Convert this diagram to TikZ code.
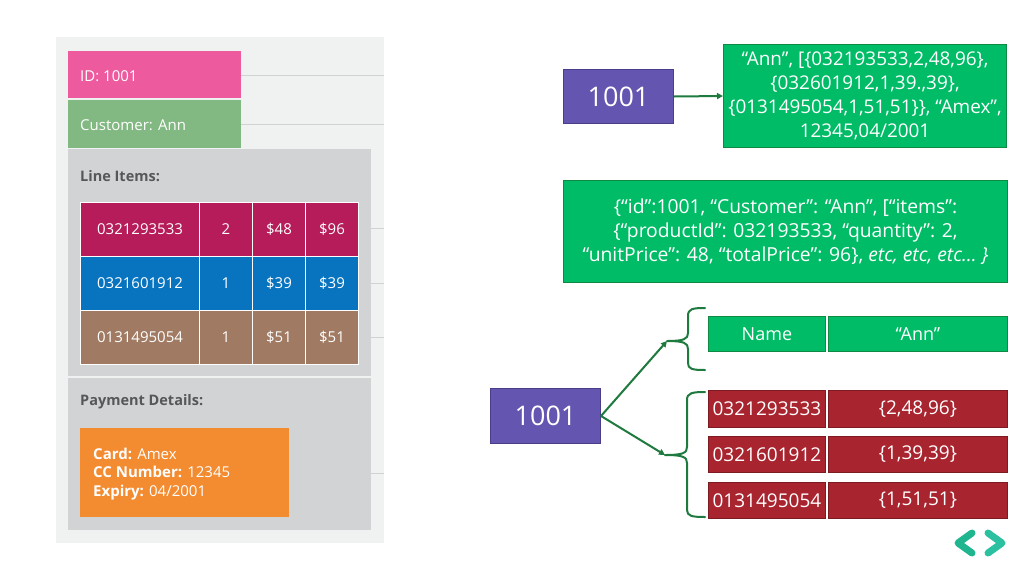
\documentclass[tikz,border=0pt]{standalone}
\usepackage{fontspec}
\setmainfont{Open Sans}
\usetikzlibrary{arrows.meta}
\definecolor{panelbg}{HTML}{F0F1F1}
\definecolor{panelgray}{HTML}{D1D3D4}
\definecolor{linegray}{HTML}{D0D2D3}
\definecolor{idpink}{HTML}{EE5A9E}
\definecolor{custgreen}{HTML}{82B881}
\definecolor{rowred}{HTML}{B51C59}
\definecolor{rowblue}{HTML}{0874C0}
\definecolor{rowbrown}{HTML}{A07A62}
\definecolor{payorange}{HTML}{F38B30}
\definecolor{labelgray}{HTML}{555759}
\definecolor{purplebox}{HTML}{6455B0}
\definecolor{purpleline}{HTML}{4A3D8A}
\definecolor{jsongreen}{HTML}{00BC66}
\definecolor{jsonline}{HTML}{0E8A45}
\definecolor{arrowgreen}{HTML}{1E7A3E}
\definecolor{cellred}{HTML}{A8242F}
\definecolor{cellredline}{HTML}{7E1A22}
\definecolor{logoA}{HTML}{1FB58F}
\definecolor{logoB}{HTML}{2BC1A0}
\tikzset{
  plainbox/.style={anchor=north west, inner sep=0pt},
  lefttext/.style={anchor=west, inner sep=0pt, text=white, font=\fontsize{15}{18}\selectfont},
  cell/.style={anchor=north west, draw=white, line width=1pt, inner sep=0pt, text=white, font=\fontsize{15}{18}\selectfont},
  sectlabel/.style={anchor=west, inner sep=0pt, text=labelgray, font=\fontsize{14.5}{17}\selectfont\bfseries},
  keybox/.style={anchor=north west, fill=purplebox, draw=purpleline, line width=1pt, inner sep=0pt, text=white, font=\fontsize{27}{32}\selectfont},
  jsonbox/.style={anchor=north west, fill=jsongreen, draw=jsonline, line width=1pt, inner sep=0pt, text=white, align=center},
  gcell/.style={anchor=north west, fill=jsongreen, draw=jsonline, line width=0.8pt, inner sep=0pt, text=white, font=\fontsize{18}{22}\selectfont},
  rcell/.style={anchor=north west, fill=cellred, draw=cellredline, line width=0.8pt, inner sep=0pt, text=white, font=\fontsize{19}{22}\selectfont},
  conn/.style={draw=arrowgreen, line width=2pt, -{Triangle[length=6pt,width=6pt]}},
  bracepath/.style={draw=arrowgreen, line width=2pt, line cap=round, line join=round},
  guide/.style={draw=linegray, line width=1pt}
}
\begin{document}
\begin{tikzpicture}[x=1pt,y=-1pt]
\useasboundingbox (0,0) rectangle (1024,576);
\fill[white] (0,0) rectangle (1024,576);

% ---------- left panel ----------
\fill[panelbg] (56,37) rectangle (384,543);
\draw[guide] (241,75) -- (384,75);
\draw[guide] (241,124) -- (384,124);
\draw[guide] (371,228) -- (384,228);
\draw[guide] (371,283) -- (384,283);
\draw[guide] (371,337) -- (384,337);
\draw[guide] (371,473) -- (384,473);

\node[plainbox, fill=idpink, minimum width=173pt, minimum height=47pt] (idbox) at (68,51) {};
\node[lefttext] (idtext) at (80,76) {ID: 1001};
\node[plainbox, fill=custgreen, minimum width=173pt, minimum height=48pt] (custbox) at (68,100) {};
\node[lefttext] (custtext) at (80,125) {Customer: Ann};

\node[plainbox, fill=panelgray, minimum width=303pt, minimum height=227pt] (lineitems) at (68,149) {};
\node[plainbox, fill=panelgray, minimum width=303pt, minimum height=152pt] (payment) at (68,378) {};
\node[sectlabel] (lilabel) at (80,176) {Line Items:};
\node[sectlabel] (pdlabel) at (80,402) {Payment Details:};

% table
\foreach \r/\y/\col/\id/\q/\u/\t in {1/202/rowred/0321293533/2/\$48/\$96, 2/256/rowblue/0321601912/1/\$39/\$39, 3/310/rowbrown/0131495054/1/\$51/\$51}{
  \node[cell, fill=\col, minimum width=119pt, minimum height=54pt] (r\r c1) at (80,\y) {\id};
  \node[cell, fill=\col, minimum width=53pt, minimum height=54pt] (r\r c2) at (199,\y) {\q};
  \node[cell, fill=\col, minimum width=53pt, minimum height=54pt] (r\r c3) at (252,\y) {\u};
  \node[cell, fill=\col, minimum width=53pt, minimum height=54pt] (r\r c4) at (305,\y) {\t};
}

\node[plainbox, fill=payorange, minimum width=209pt, minimum height=89pt] (paybox) at (80,428) {};
\node[anchor=west, inner sep=0pt, text=white, align=left, font=\fontsize{15}{18.5}\selectfont] (paytext) at (93,474)
  {\textbf{Card:} Amex\\ \textbf{CC Number:} 12345\\ \textbf{Expiry:} 04/2001};

% ---------- right top ----------
\node[keybox, minimum width=110pt, minimum height=54pt] (key1) at (563,69) {1001};
\node[jsonbox, minimum width=283pt, minimum height=103pt, font=\fontsize{18.9}{24}\selectfont] (json1) at (723,44)
  {“Ann”, [\{032193533,2,48,96\},\\ \{032601912,1,39.,39\},\\ \{0131495054,1,51,51\}\}, “Amex”,\\ 12345,04/2001};
\draw[conn] (key1.east) -- (json1.west);

\node[jsonbox, minimum width=444pt, minimum height=102pt, font=\fontsize{19.3}{24}\selectfont] (json2) at (563,180)
  {\{“id”:1001, “Customer”: “Ann”, [“items”:\\ \{“productId”: 032193533, “quantity”: 2,\\ “unitPrice”: 48, “totalPrice”: 96\}, \textit{etc, etc, etc… \}}};

% ---------- right bottom ----------
\node[keybox, minimum width=110pt, minimum height=55pt] (key2) at (490,388) {1001};

\node[gcell, minimum width=117pt, minimum height=35pt] (name) at (708,316) {Name};
\node[gcell, minimum width=179pt, minimum height=35pt] (ann) at (828,316) {“Ann”};

\node[rcell, minimum width=117pt, minimum height=37pt] (p1) at (708,390) {0321293533};
\node[rcell, minimum width=179pt, minimum height=37pt] (v1) at (828,390) {\{2,48,96\}};
\node[rcell, minimum width=117pt, minimum height=36pt] (p2) at (708,436) {0321601912};
\node[rcell, minimum width=179pt, minimum height=36pt] (v2) at (828,436) {\{1,39,39\}};
\node[rcell, minimum width=117pt, minimum height=36pt] (p3) at (708,482) {0131495054};
\node[rcell, minimum width=179pt, minimum height=36pt] (v3) at (828,482) {\{1,51,51\}};

% braces
\coordinate (tipA) at (667,341);
\coordinate (tipB) at (665,455);
\draw[bracepath] (705,308) .. controls (692,308) and (688,309) .. (688,316) -- (688,333)
  .. controls (688,339) and (684,341) .. (tipA) .. controls (684,341) and (688,343) .. (688,349)
  -- (688,363) .. controls (688,369) and (692,370) .. (705,370);
\draw[bracepath] (705,392) .. controls (692,392) and (687,393) .. (687,400) -- (687,447)
  .. controls (687,453) and (683,455) .. (tipB) .. controls (683,455) and (687,457) .. (687,463)
  -- (687,510) .. controls (687,516) and (692,517) .. (705,517);

\draw[conn] (key2.east) -- (tipA);
\draw[conn] (key2.east) -- (tipB);

% ---------- logo ----------
\draw[logoA, line width=7pt, line cap=round, line join=round] (972,533) -- (958,543) -- (972,553);
\draw[logoB, line width=7pt, line cap=round, line join=round] (988,533) -- (1002,543) -- (988,553);
\end{tikzpicture}
\end{document}
